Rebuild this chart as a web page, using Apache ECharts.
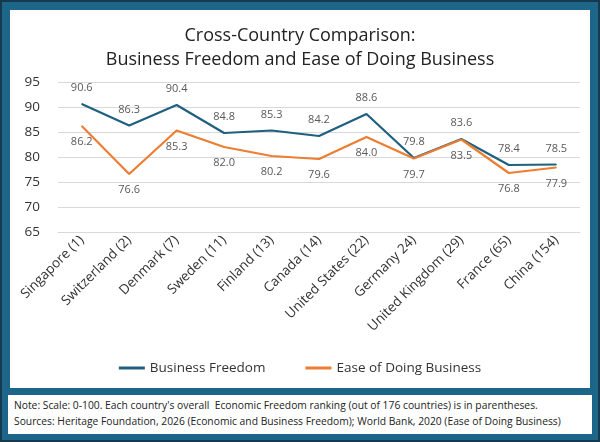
<!DOCTYPE html>
<html>
<head>
<meta charset="utf-8">
<script src="https://cdn.jsdelivr.net/npm/echarts@6/dist/echarts.min.js"></script>
<style>
  body { margin: 0; }
  #frame { position: absolute; left: 0; top: 0; width: 596px; height: 438px; background: #1b6689; border: 2px solid #16394f; }
  #chart { position: absolute; left: 8px; top: 8px; width: 580px; height: 378px; background: #fff; }
  #note { position: absolute; left: 6px; top: 393px; width: 572px; height: 37px; background: #fff; padding: 2px 6px 0 6px;
          font-family: "Open Sans", sans-serif; font-size: 10.3px; line-height: 16px; color: #222; box-sizing: content-box; }
</style>
</head>
<body>
<div id="frame">
  <div id="chart"></div>
  <div id="note">Note: Scale: 0-100. Each country's overall&nbsp; Economic Freedom ranking (out of 176 countries) is in parentheses.<br>Sources: Heritage Foundation, 2026 (Economic and Business Freedom); World Bank, 2020 (Ease of Doing Business)</div>
</div>
<script>
var countries = ['Singapore (1)', 'Switzerland (2)', 'Denmark (7)', 'Sweden (11)', 'Finland (13)', 'Canada (14)',
                 'United States (22)', 'Germany 24)', 'United Kingdom (29)', 'France (65)', 'China (154)'];
var businessFreedom = [90.6, 86.3, 90.4, 84.8, 85.3, 84.2, 88.6, 79.8, 83.6, 78.4, 78.5];
var easeOfDoing = [86.2, 76.6, 85.3, 82.0, 80.2, 79.6, 84.0, 79.7, 83.5, 76.8, 77.9];

var chart = echarts.init(document.getElementById('chart'));
var labelStyle = { show: true, color: '#595959', fontSize: 11, fontFamily: 'Open Sans',
                   formatter: function (p) { return p.value.toFixed(1); } };
chart.setOption({
    animation: false,
    title: {
        text: 'Cross-Country Comparison:\nBusiness Freedom and Ease of Doing Business',
        left: 'center', top: 9,
        textStyle: { fontFamily: 'Open Sans', fontWeight: 'normal', fontSize: 18, lineHeight: 24, color: '#222' }
    },
    legend: {
        bottom: 8, itemGap: 40, itemWidth: 26, itemHeight: 3,
        icon: 'rect',
        textStyle: { fontFamily: 'Open Sans', fontSize: 13.5, color: '#333' },
        data: ['Business Freedom', 'Ease of Doing Business']
    },
    grid: { left: 48, right: 10, top: 72, bottom: 156 },
    xAxis: {
        type: 'category', data: countries,
        axisTick: { show: false },
        axisLine: { lineStyle: { color: '#d9d9d9' } },
        axisLabel: { rotate: 45, interval: 0, fontFamily: 'Open Sans', fontSize: 13.5, color: '#333', margin: 6 }
    },
    yAxis: {
        type: 'value', min: 65, max: 95, interval: 5,
        axisLabel: { fontFamily: 'Open Sans', fontSize: 13.5, color: '#333', margin: 18 },
        splitLine: { lineStyle: { color: '#d9d9d9' } }
    },
    series: [
        { name: 'Business Freedom', type: 'line', data: businessFreedom, symbol: 'circle', symbolSize: 1,
          lineStyle: { color: '#1f5f7f', width: 2.2 }, itemStyle: { color: '#1f5f7f' },
          label: Object.assign({ position: 'top', distance: 10 }, labelStyle) },
        { name: 'Ease of Doing Business', type: 'line', data: easeOfDoing, symbol: 'circle', symbolSize: 1,
          lineStyle: { color: '#ed7d31', width: 2.2 }, itemStyle: { color: '#ed7d31' },
          label: Object.assign({ position: 'bottom', distance: 10 }, labelStyle) }
    ]
});
window.addEventListener('resize', function () { chart.resize(); });
</script>
</body>
</html>
